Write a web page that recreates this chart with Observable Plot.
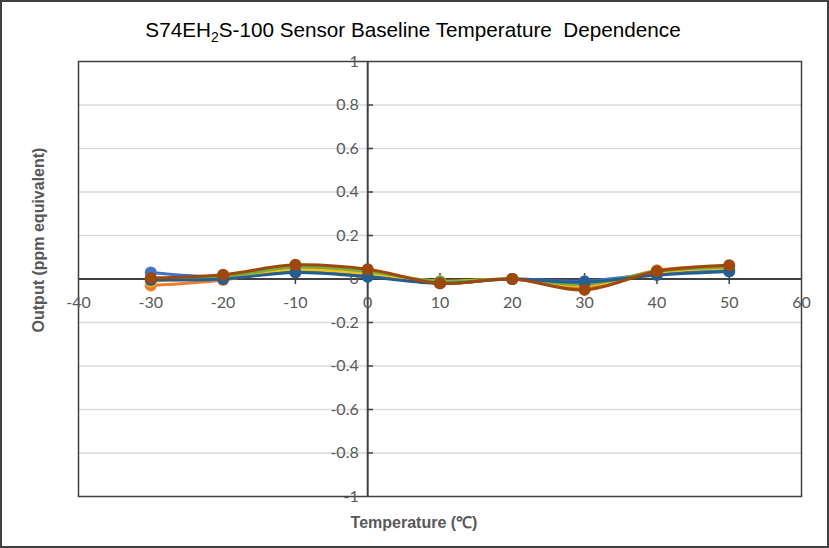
<!DOCTYPE html>
<html><head><meta charset="utf-8">
<script src="https://cdn.jsdelivr.net/npm/d3@7"></script>
<script src="https://cdn.jsdelivr.net/npm/@observablehq/plot@0.6"></script>
<style>body{margin:0;background:#fff}#chart{width:829px;height:548px}</style>
</head><body><div id="chart"></div>
<script>
const temps = [-30, -20, -10, 0, 10, 20, 30, 40, 50];
const seriesNames = ["Sensor 1", "Sensor 2", "Sensor 3", "Sensor 4", "Sensor 5", "Sensor 6"];
const seriesColors = ["#4472C4", "#ED7D31", "#FFC000", "#70AD47", "#255E91", "#9E480E"];
const s1 = [0.03, 0.01, 0.035, 0.015, -0.015, 0, -0.01, 0.025, 0.045];
const s2 = [-0.03, -0.005, 0.05, 0.03, -0.02, 0, -0.04, 0.04, 0.06];
const s3 = [-0.01, 0.01, 0.045, 0.025, -0.01, 0, -0.03, 0.03, 0.05];
const s4 = [0.0, 0.01, 0.055, 0.035, -0.012, 0, -0.025, 0.035, 0.055];
const s5 = [-0.005, 0.0, 0.03, 0.01, -0.02, 0, -0.015, 0.018, 0.035];
const s6 = [0.005, 0.02, 0.065, 0.045, -0.02, 0, -0.05, 0.036, 0.063];
const seriesValues = [s1, s2, s3, s4, s5, s6];
const xTicks = [-40, -30, -20, -10, 0, 10, 20, 30, 40, 50, 60];
const yTicks = [-1, -0.8, -0.6, -0.4, -0.2, 0, 0.2, 0.4, 0.6, 0.8, 1];
const yGrid = [-0.8, -0.6, -0.4, -0.2, 0.2, 0.4, 0.6, 0.8];
const titleMain = "S74EH";
const titleSub = "2";
const titleRest = "S-100 Sensor Baseline Temperature  Dependence";
const xLabel = "Temperature (\u2103)";
const yLabel = "Output (ppm equivalent)";

const font = "Lato, 'Open Sans', sans-serif";
const tickFmt = d => String(d);

const seriesMarks = [];
seriesValues.forEach((vals, i) => {
  const data = temps.map((t, j) => ({t, v: vals[j]}));
  seriesMarks.push(Plot.line(data, {x: "t", y: "v", stroke: seriesColors[i], strokeWidth: 3, curve: "catmull-rom"}));
  seriesMarks.push(Plot.dot(data, {x: "t", y: "v", fill: seriesColors[i], r: 6}));
});

const plot = Plot.plot({
  width: 829, height: 548,
  marginLeft: 78, marginRight: 28, marginTop: 61, marginBottom: 52,
  x: {domain: [-40, 60], axis: null},
  y: {domain: [-1, 1], axis: null},
  style: {fontFamily: font, background: "#fff"},
  marks: [
    Plot.ruleY(yGrid, {stroke: "#d9d9d9", strokeWidth: 1.5}),
    Plot.ruleY([0], {stroke: "#404040", strokeWidth: 2}),
    Plot.ruleX([0], {stroke: "#404040", strokeWidth: 2}),
    Plot.ruleX(xTicks.filter(d => d > -40 && d < 60), {x: d => d, y1: -0.025, y2: 0.025, stroke: "#404040", strokeWidth: 1.5}),
    Plot.ruleY(yTicks.filter(d => d > -1 && d < 1), {y: d => d, x1: 0, x2: 0.8, stroke: "#404040", strokeWidth: 1.5}),
    Plot.frame({stroke: "#404040", strokeWidth: 1.5}),
    Plot.text(xTicks, {x: d => d, y: 0, text: tickFmt, dy: 24, fontSize: 16, fill: "#595959"}),
    Plot.text(yTicks, {x: 0, y: d => d, text: tickFmt, dx: -9, textAnchor: "end", fontSize: 16, fill: "#595959"}),
    ...seriesMarks
  ]
});
document.getElementById("chart").appendChild(plot);

const svg = d3.select(plot);
svg.append("rect").attr("x", 1).attr("y", 1).attr("width", 827).attr("height", 546)
  .attr("fill", "none").attr("stroke", "#404040").attr("stroke-width", 2);
const t = svg.append("text").attr("x", 413).attr("y", 37).attr("text-anchor", "middle")
  .attr("font-family", "'Liberation Sans Narrow', 'Liberation Sans', Arial, sans-serif")
  .attr("font-size", 20.7).attr("fill", "#000").style("white-space", "pre");
t.append("tspan").text(titleMain);
t.append("tspan").attr("font-size", 14).attr("dy", 5).text(titleSub);
t.append("tspan").attr("dy", -5).text(titleRest);
svg.append("text").attr("x", 414).attr("y", 528).attr("text-anchor", "middle")
  .attr("font-family", "'Liberation Sans', Arial, sans-serif").attr("font-weight", "bold")
  .attr("font-size", 16).attr("fill", "#595959").text(xLabel);
svg.append("text").attr("transform", "translate(44,240) rotate(-90)").attr("text-anchor", "middle")
  .attr("font-family", "'Liberation Sans', Arial, sans-serif").attr("font-weight", "bold")
  .attr("font-size", 16).attr("fill", "#595959").text(yLabel);
</script>
</body></html>
